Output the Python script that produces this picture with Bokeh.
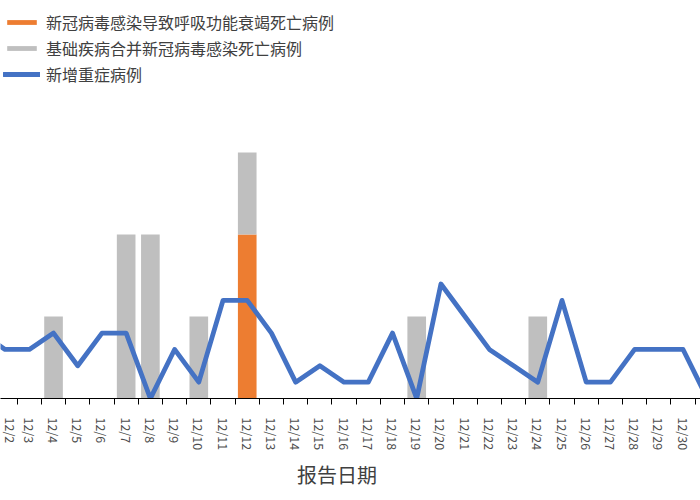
import math
from bokeh.plotting import figure
from bokeh.models import (Range1d, FixedTicker, Legend, LegendItem, Title,
                          ColumnDataSource)
from bokeh.embed import file_html
from bokeh.resources import INLINE

# ---- data ----
dates = ["12/1", "12/2", "12/3", "12/4", "12/5", "12/6", "12/7", "12/8",
         "12/9", "12/10", "12/11", "12/12", "12/13", "12/14", "12/15", "12/16",
         "12/17", "12/18", "12/19", "12/20", "12/21", "12/22", "12/23", "12/24",
         "12/25", "12/26", "12/27", "12/28", "12/29", "12/30", "12/31"]
new_severe = [4, 3, 3, 4, 2, 4, 4, 0, 3, 1, 6, 6, 4, 1, 2, 1,
              1, 4, 0, 7, 5, 3, 2, 1, 6, 1, 1, 3, 3, 3, 0]
resp_failure_deaths = [0, 0, 0, 0, 0, 0, 0, 0, 0, 0, 0, 2, 0, 0, 0, 0,
                       0, 0, 0, 0, 0, 0, 0, 0, 0, 0, 0, 0, 0, 0, 0]
comorbidity_deaths = [0, 0, 0, 1, 0, 0, 2, 2, 0, 1, 0, 1, 0, 0, 0, 0,
                      0, 0, 1, 0, 0, 0, 0, 1, 0, 0, 0, 0, 0, 0, 0]
series_names = ["新冠病毒感染导致呼吸功能衰竭死亡病例",
                "基础疾病合并新冠病毒感染死亡病例",
                "新增重症病例"]
x_title = "报告日期"

ORANGE = "#ED7D31"
GRAY = "#BFBFBF"
BLUE = "#4472C4"
CJK = "Noto Sans CJK SC"

idx = list(range(len(dates)))
src = ColumnDataSource(dict(x=idx, resp=resp_failure_deaths,
                            comorb=comorbidity_deaths, severe=new_severe))

p = figure(width=700, height=500, output_backend="svg", toolbar_location=None,
           x_range=Range1d(0.81, 29.72), y_range=Range1d(0, 24.34),
           min_border_left=0, min_border_right=0, min_border_top=0,
           min_border_bottom=102)
p.extra_y_ranges = {"deaths": Range1d(0, 4.854)}
p.outline_line_color = None
p.xgrid.visible = False
p.ygrid.visible = False
p.yaxis.visible = False

bars = p.vbar_stack(["resp", "comorb"], x="x", width=0.77, source=src,
                    color=[ORANGE, GRAY], line_color=None,
                    y_range_name="deaths")
line = p.line("x", "severe", source=src, line_color=BLUE, line_width=4.8,
              line_join="round", line_cap="round")

ax = p.xaxis[0]
ax.ticker = FixedTicker(ticks=idx, minor_ticks=[i + 0.5 for i in idx])
ax.major_label_overrides = {i: d for i, d in zip(idx, dates)}
ax.major_label_orientation = -math.pi / 2
ax.major_tick_out = 0
ax.major_tick_in = 0
ax.minor_tick_out = 6
ax.minor_tick_in = 0
ax.minor_tick_line_color = "black"
ax.axis_line_color = "black"
ax.major_label_standoff = 13
ax.major_label_text_font = CJK
ax.major_label_text_font_size = "12.5px"
ax.major_label_text_color = "#4d4d4d"

legend = Legend(items=[LegendItem(label=series_names[0], renderers=[bars[0]]),
                       LegendItem(label=series_names[1], renderers=[bars[1]]),
                       LegendItem(label=series_names[2], renderers=[line])],
                location=(3, 312), orientation="vertical",
                glyph_width=37, glyph_height=6, label_height=20, spacing=2,
                padding=0, margin=0, label_standoff=6,
                label_text_font=CJK, label_text_font_size="16px",
                label_text_color="#404040", background_fill_alpha=0,
                border_line_color=None)
p.add_layout(legend, "center")

p.add_layout(Title(text=x_title, align="left", offset=296.5, standoff=9,
                   text_font=CJK, text_font_size="20px",
                   text_font_style="normal", text_color="#404040"), "below")

open("out.html", "w").write(file_html(p, INLINE))
